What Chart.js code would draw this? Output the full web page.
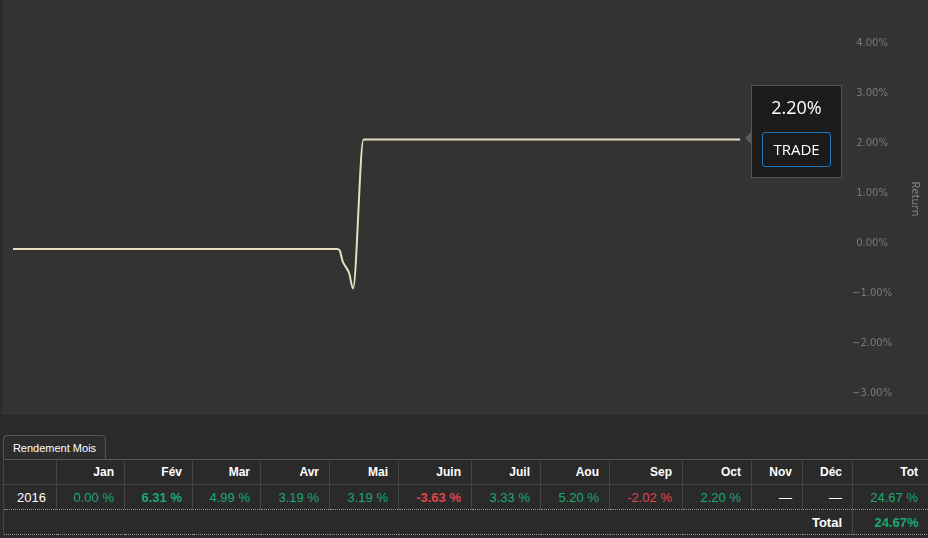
<!DOCTYPE html>
<html>
<head>
<meta charset="utf-8">
<script src="https://cdn.jsdelivr.net/npm/chart.js@4.4.0/dist/chart.umd.min.js"></script>
<style>
  html, body { margin: 0; padding: 0; background: #2a2a2a; width: 928px; height: 538px; overflow: hidden; }
  #panel { position: absolute; left: 2px; top: 0; width: 926px; height: 413px; background: #333333; border-bottom: 1px solid #3d3d3d; }
  #chart { display: block; }
  .tip { position: absolute; left: 751px; top: 85px; width: 89px; height: 91px; background: #1b1b1b; border: 1px solid #555; }
  .tip:before { content: ''; position: absolute; left: -7px; top: 46px; border-right: 6px solid #5a5a5a; border-top: 6px solid transparent; border-bottom: 6px solid transparent; }
  .tip .val { position: absolute; left: 0; top: 9px; width: 89px; text-align: center; color: #fff; font: 18px "Open Sans", sans-serif; }
  .tip .btn { position: absolute; left: 10px; top: 46px; width: 67px; height: 33px; border: 1px solid #1f78c1; border-radius: 3px; color: #fff; font: 15px "Open Sans", sans-serif; line-height: 33px; text-align: center; }
  .tab { position: absolute; left: 3px; top: 435px; width: 101px; height: 24px; border: 1px solid #555; border-bottom: none; border-radius: 4px 4px 0 0; background: #2d2d2d; color: #fff; font: 11px Arial, "Liberation Sans", sans-serif; line-height: 24px; text-align: center; }
  table { position: absolute; left: 3px; top: 459px; width: 925px; border-collapse: collapse; table-layout: fixed; border-top: 1px solid #555; font-family: Arial, "Liberation Sans", sans-serif; }
  th, td { height: 24px; padding: 0 10px 0 0; text-align: right; white-space: nowrap; overflow: hidden; }
  th { font-size: 12px; font-weight: bold; color: #fff; border-right: 1px solid #444; border-bottom: 1px solid #444; border-left: 1px solid #444; }
  tr.data td { font-size: 13px; border-right: 1px solid #444; border-left: 1px solid #444; border-bottom: 1px dotted #9a9a9a; }
  tr.total td { font-size: 13px; font-weight: bold; border-bottom: 1px dotted #9a9a9a; }
  .pos { color: #1aa874; }
  .neg { color: #e0454a; }
  .wht { color: #fff; }
  .b { font-weight: bold; }
</style>
</head>
<body>
<div id="panel"><canvas id="chart" width="926" height="413"></canvas></div>
<div class="tip"><div class="val">2.20%</div><div class="btn">TRADE</div></div>
<div class="tab">Rendement Mois</div>
<table id="perf"></table>
<script>
// equity curve (day of year, cumulative return %)
const days = [0, 124, 125, 126, 127.5, 128.5, 130, 134, 278];
const returns = [-0.12, -0.12, -0.16, -0.36, -0.5, -0.6, -0.91, 2.07, 2.07];

const yMin = -3;
const yMax = 4;
const yStep = 1;
const yTitle = 'Return';

// monthly table
const year = '2016';
const months = ['Jan', 'Fév', 'Mar', 'Avr', 'Mai', 'Juin', 'Juil', 'Aou', 'Sep', 'Oct', 'Nov', 'Déc'];
const monthlyReturns = [0.00, 6.31, 4.99, 3.19, 3.19, -3.63, 3.33, 5.20, -2.02, 2.20, null, null];
const yearTotal = 24.67;
const colWidths = [53, 68, 68, 68, 69, 69, 73, 69, 69, 73, 69, 51, 50, 76];

const fmtTick = (v) => (v < 0 ? '\u2212' : '') + Math.abs(v).toFixed(2) + '%';

// axis title sits a bit above the middle of the axis in the original
const axisTitle = {
  id: 'axisTitle',
  afterDraw(chart) {
    const c = chart.ctx;
    c.save();
    c.translate(chart.width - 13, 199);
    c.rotate(Math.PI / 2);
    c.fillStyle = '#8c8c8c';
    c.font = '11px "Open Sans"';
    c.textAlign = 'center';
    c.textBaseline = 'middle';
    c.fillText(yTitle, 0, 0);
    c.restore();
  }
};

const ctx = document.getElementById('chart').getContext('2d');
new Chart(ctx, {
  type: 'line',
  data: {
    datasets: [{
      label: 'Return',
      data: days.map((d, i) => ({ x: d, y: returns[i] })),
      borderColor: '#e6dfc1',
      borderWidth: 2,
      pointRadius: 0,
      cubicInterpolationMode: 'monotone',
      fill: false
    }]
  },
  options: {
    responsive: false,
    animation: false,
    layout: { padding: { left: 11, top: 43, bottom: 20, right: 0 } },
    plugins: {
      legend: { display: false },
      tooltip: { enabled: false }
    },
    scales: {
      x: { type: 'linear', display: false, min: 0, max: 320 },
      y: {
        position: 'right',
        min: yMin,
        max: yMax,
        grid: { display: false, drawTicks: false },
        border: { display: false },
        ticks: {
          stepSize: yStep,
          crossAlign: 'center',
          padding: 2,
          color: '#7a7a7a',
          font: { family: 'DejaVu Sans', size: 10 },
          callback: (v) => fmtTick(v)
        },
        afterFit: (scale) => { scale.width = 78; }
      }
    }
  },
  plugins: [axisTitle]
});

// build the table
const valid = monthlyReturns.filter(v => v !== null);
const best = Math.max(...valid);
const worst = Math.min(...valid);
const table = document.getElementById('perf');

let html = '<colgroup>' + colWidths.map(w => '<col style="width:' + w + 'px">').join('') + '</colgroup>';
html += '<tr><th></th>' + months.map(m => '<th>' + m + '</th>').join('') + '<th>Tot</th></tr>';
html += '<tr class="data"><td class="wht">' + year + '</td>';
monthlyReturns.forEach(v => {
  if (v === null) {
    html += '<td class="wht">\u2014</td>';
  } else {
    let cls = v < 0 ? 'neg' : 'pos';
    if (v === best || v === worst) cls += ' b';
    html += '<td class="' + cls + '">' + v.toFixed(2) + ' %</td>';
  }
});
html += '<td class="pos">' + yearTotal.toFixed(2) + ' %</td></tr>';
html += '<tr class="total"><td colspan="13" class="wht" style="border-left:1px solid #444">Total</td>' +
  '<td class="pos" style="border-left:1px solid #444">' + yearTotal.toFixed(2) + '%</td></tr>';
table.innerHTML = html;
</script>
</body>
</html>
